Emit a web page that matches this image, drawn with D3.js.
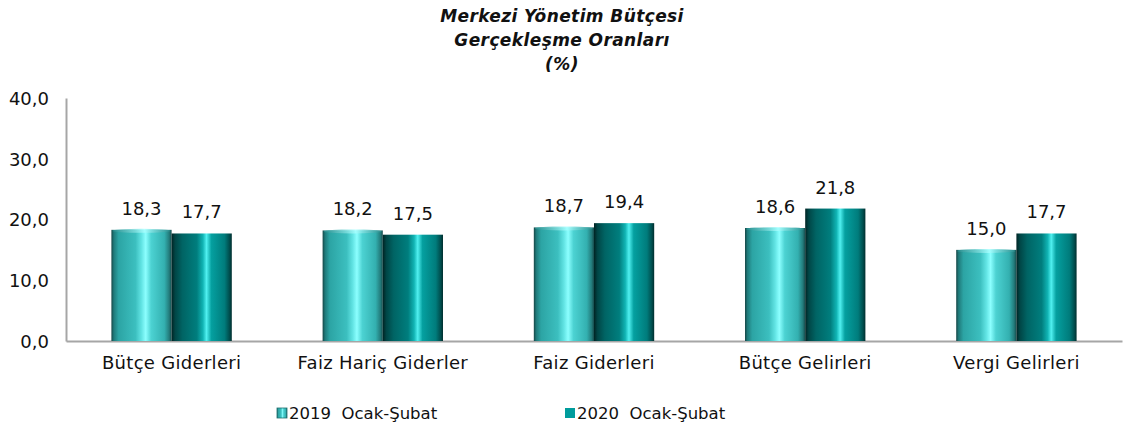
<!DOCTYPE html>
<html>
<head>
<meta charset="utf-8">
<script src="https://cdn.jsdelivr.net/npm/d3@7"></script>
<style>
  body { margin: 0; background: #fff; }
  svg text { font-family: "DejaVu Sans", sans-serif; fill: #111; }
</style>
</head>
<body>
<div id="root"></div>
<script>
// Data
const categories = ["Bütçe Giderleri", "Faiz Hariç Giderler", "Faiz Giderleri", "Bütçe Gelirleri", "Vergi Gelirleri"];
const seriesNames = ["2019  Ocak-Şubat", "2020  Ocak-Şubat"];
const values2019 = [18.3, 18.2, 18.7, 18.6, 15.0];
const values2020 = [17.7, 17.5, 19.4, 21.8, 17.7];
const yTicks = [0, 10, 20, 30, 40];
const titleLines = ["Merkezi Yönetim Bütçesi", "Gerçekleşme Oranları", "(%)"];

const W = 1129, H = 434;
const margin = {top: 98, right: 7, bottom: 93, left: 66},
    width = W - margin.left - margin.right,
    height = H - margin.top - margin.bottom;

const svg = d3.select("#root")
    .append("svg")
    .attr("width", W)
    .attr("height", H);

// gradients for cylinder look
const defs = svg.append("defs");
function cyl(id, stops) {
    const g = defs.append("linearGradient").attr("id", id)
        .attr("x1", "0%").attr("x2", "100%").attr("y1", "0%").attr("y2", "0%");
    stops.forEach(s => g.append("stop").attr("offset", s[0]).attr("stop-color", s[1]));
}
cyl("g2019", [["0%", "#164646"], ["4%", "#1f7a7a"], ["12%", "#2ca4a4"], ["40%", "#3cbfbf"], ["50%", "#62e4e4"], ["57%", "#8cffff"], ["66%", "#4cd2d2"], ["88%", "#33b0b0"], ["96%", "#237c7c"], ["100%", "#164c4c"]]);
cyl("g2020", [["0%", "#002424"], ["6%", "#004646"], ["18%", "#006464"], ["42%", "#007e7e"], ["52%", "#11b4b4"], ["58%", "#50f0f0"], ["66%", "#05a0a0"], ["88%", "#007c7c"], ["96%", "#004e4e"], ["100%", "#002e2e"]]);
cyl("cap2019", [["0%", "#2a8e8e"], ["55%", "#a8ffff"], ["100%", "#2a8e8e"]]);

const chart = svg.append("g")
    .attr("transform", "translate(" + margin.left + "," + margin.top + ")");

// scales
const x = d3.scaleBand().domain(categories).range([0, width]);
const inner = x.bandwidth() * 0.57;
const x1 = d3.scaleBand().domain(seriesNames).range([0, inner]);
const y = d3.scaleLinear().domain([0, 40]).range([height, 0]);

// Y axis
const yAxis = chart.append("g")
    .call(d3.axisLeft(y).tickValues(yTicks).tickSize(0).tickPadding(17)
        .tickFormat(d => d3.format(".1f")(d).replace(".", ",")));
yAxis.select(".domain").attr("stroke", "#a6a6a6").attr("stroke-width", 2);
yAxis.selectAll("text").style("font-size", "18px").attr("dy", "0.35em");

// X axis
const xAxis = chart.append("g")
    .attr("transform", "translate(0," + height + ")")
    .call(d3.axisBottom(x).tickSize(0).tickPadding(15));
xAxis.select(".domain").attr("stroke", "#a6a6a6").attr("stroke-width", 2);
xAxis.selectAll("text").style("font-size", "18px").style("letter-spacing", "0.3px");

// Bars
const series = [values2019, values2020];
const grads = ["url(#g2019)", "url(#g2020)"];
const groups = chart.selectAll(".grp")
    .data(categories)
    .enter().append("g")
    .attr("transform", d => "translate(" + (x(d) + (x.bandwidth() - inner) / 2) + ",0)");

seriesNames.forEach((s, si) => {
    groups.append("rect")
        .attr("x", x1(s))
        .attr("width", x1.bandwidth())
        .attr("y", (d, i) => y(series[si][i]))
        .attr("height", (d, i) => height - y(series[si][i]))
        .attr("fill", grads[si]);
    if (si === 0) {
        groups.append("ellipse")
            .attr("cx", x1(s) + x1.bandwidth() / 2)
            .attr("cy", (d, i) => y(series[si][i]) + 1)
            .attr("rx", x1.bandwidth() / 2 - 1)
            .attr("ry", 2)
            .attr("fill", "url(#cap2019)")
            .attr("opacity", 0.8);
    }
    groups.append("text")
        .attr("x", x1(s) + x1.bandwidth() / 2)
        .attr("y", (d, i) => y(series[si][i]) - 15)
        .attr("text-anchor", "middle")
        .style("font-size", "18px")
        .text((d, i) => d3.format(".1f")(series[si][i]).replace(".", ","));
});

// Title
svg.append("text")
    .attr("x", 562)
    .attr("text-anchor", "middle")
    .style("font-size", "17px")
    .style("font-weight", "bold")
    .style("font-style", "italic")
    .style("letter-spacing", "0.4px")
    .selectAll("tspan")
    .data(titleLines)
    .enter().append("tspan")
    .attr("x", 562)
    .attr("y", (d, i) => 22 + i * 24)
    .text(d => d);

// Legend
const legendX = [277, 565];
const legend = svg.selectAll(".leg")
    .data(seriesNames)
    .enter().append("g")
    .attr("transform", (d, i) => "translate(" + legendX[i] + ",408)");
legend.append("rect")
    .attr("width", 10).attr("height", 10)
    .attr("fill", (d, i) => i === 0 ? "url(#g2019)" : "#009c9c")
    .attr("stroke", (d, i) => i === 0 ? "#1f6f6f" : "none")
    .attr("stroke-width", 0.8);
legend.append("text")
    .attr("x", 12)
    .attr("y", 5)
    .attr("dy", "0.35em")
    .style("font-size", "16.5px")
    .attr("xml:space", "preserve")
    .text(d => d);
</script>
</body>
</html>
